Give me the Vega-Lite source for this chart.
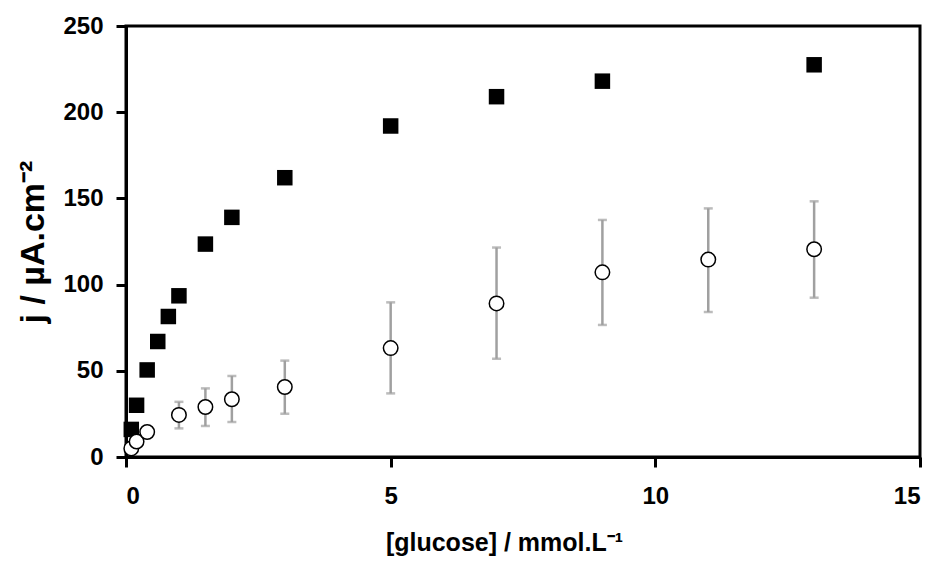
{
  "$schema": "https://vega.github.io/schema/vega-lite/v6.json",
  "width": 794,
  "height": 431,
  "autosize": {"type": "none"},
  "padding": {"left": 126, "top": 26, "right": 18, "bottom": 111},
  "background": "white",
  "config": {
    "view": {"stroke": "black", "strokeWidth": 3},
    "font": "Liberation Sans",
    "axis": {
      "grid": false,
      "domainColor": "black",
      "domainWidth": 3,
      "tickColor": "black",
      "tickWidth": 3,
      "tickSize": 10,
      "labelFont": "Liberation Sans",
      "labelFontWeight": "bold",
      "labelFontSize": 24,
      "labelColor": "black",
      "titleFont": "Liberation Sans",
      "titleFontWeight": "bold",
      "titleFontSize": 25,
      "titleColor": "black"
    }
  },
  "datasets": {
    "sq": [
      {"c": 0.1, "j": 16},
      {"c": 0.2, "j": 30},
      {"c": 0.4, "j": 50.5},
      {"c": 0.6, "j": 67},
      {"c": 0.8, "j": 81.5},
      {"c": 1.0, "j": 93.5},
      {"c": 1.5, "j": 123.5},
      {"c": 2.0, "j": 139},
      {"c": 3.0, "j": 162},
      {"c": 5.0, "j": 192},
      {"c": 7.0, "j": 209},
      {"c": 9.0, "j": 218},
      {"c": 13.0, "j": 227.5}
    ],
    "ci": [
      {"c": 0.1, "j": 5, "lo": null, "hi": null},
      {"c": 0.2, "j": 9, "lo": null, "hi": null},
      {"c": 0.4, "j": 14.5, "lo": null, "hi": null},
      {"c": 1.0, "j": 24.4, "lo": 16.6, "hi": 32},
      {"c": 1.5, "j": 29, "lo": 18, "hi": 39.8},
      {"c": 2.0, "j": 33.5, "lo": 20.3, "hi": 47},
      {"c": 3.0, "j": 40.6, "lo": 25.1, "hi": 55.9},
      {"c": 5.0, "j": 63.2, "lo": 36.9, "hi": 89.7},
      {"c": 7.0, "j": 89.1, "lo": 57, "hi": 121.5},
      {"c": 9.0, "j": 107.1, "lo": 76.6, "hi": 137.5},
      {"c": 11.0, "j": 114.5, "lo": 84.1, "hi": 144.2},
      {"c": 13.0, "j": 120.5, "lo": 92.4, "hi": 148.3}
    ]
  },
  "layer": [
    {
      "data": {"name": "ci"},
      "transform": [{"filter": "datum.lo != null"}],
      "mark": {"type": "rule", "color": "#a0a0a0", "strokeWidth": 2.5},
      "encoding": {
        "x": {"field": "c", "type": "quantitative"},
        "y": {"field": "lo", "type": "quantitative"},
        "y2": {"field": "hi"}
      }
    },
    {
      "data": {"name": "ci"},
      "transform": [{"filter": "datum.lo != null"}],
      "mark": {"type": "tick", "orient": "horizontal", "color": "#a0a0a0", "size": 9, "thickness": 2.5},
      "encoding": {
        "x": {"field": "c", "type": "quantitative"},
        "y": {"field": "lo", "type": "quantitative"}
      }
    },
    {
      "data": {"name": "ci"},
      "transform": [{"filter": "datum.hi != null"}],
      "mark": {"type": "tick", "orient": "horizontal", "color": "#a0a0a0", "size": 9, "thickness": 2.5},
      "encoding": {
        "x": {"field": "c", "type": "quantitative"},
        "y": {"field": "hi", "type": "quantitative"}
      }
    },
    {
      "data": {"name": "sq"},
      "mark": {"type": "square", "color": "black", "filled": true, "size": 240, "opacity": 1},
      "encoding": {
        "x": {
          "field": "c", "type": "quantitative",
          "scale": {"domain": [0, 15], "nice": false, "zero": true},
          "axis": {
            "values": [0, 5, 10, 15],
            "title": "[glucose] / mmol.L⁻¹",
            "labelPadding": 17,
            "titlePadding": 22,
            "titleX": 378
          }
        },
        "y": {
          "field": "j", "type": "quantitative",
          "scale": {"domain": [0, 250], "nice": false},
          "axis": {
            "values": [0, 50, 100, 150, 200, 250],
            "title": "j / µA.cm⁻²",
            "titleFontSize": 34,
            "labelPadding": 13,
            "titlePadding": 12
          }
        }
      }
    },
    {
      "data": {"name": "ci"},
      "mark": {"type": "point", "shape": "circle", "filled": true, "fill": "white", "stroke": "black", "strokeWidth": 1.5, "size": 210, "opacity": 1},
      "encoding": {
        "x": {"field": "c", "type": "quantitative"},
        "y": {"field": "j", "type": "quantitative"}
      }
    }
  ]
}
